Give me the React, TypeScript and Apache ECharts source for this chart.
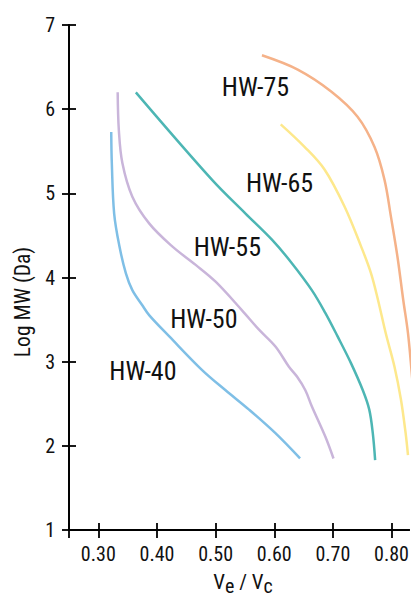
import React, { useEffect, useRef } from "react";
import * as echarts from "echarts";

const FONT = "'Roboto Condensed', 'Liberation Sans Narrow', Roboto, sans-serif";

const xTickValues = [0.25, 0.3, 0.4, 0.5, 0.6, 0.7, 0.8];
const xLabelValues = [0.3, 0.4, 0.5, 0.6, 0.7, 0.8];
const yTickValues = [1, 2, 3, 4, 5, 6, 7];

const hw40X = [0.322, 0.323, 0.327, 0.336, 0.347, 0.358, 0.375, 0.387, 0.421, 0.477, 0.517, 0.557, 0.602, 0.644];
const hw40Y = [5.73, 5.36, 4.76, 4.37, 4.05, 3.85, 3.67, 3.55, 3.30, 2.90, 2.66, 2.43, 2.15, 1.85];

const hw50X = [0.333, 0.335, 0.341, 0.358, 0.387, 0.426, 0.466, 0.500, 0.545, 0.574, 0.602, 0.625, 0.639, 0.653, 0.664, 0.687, 0.701];
const hw50Y = [6.20, 5.75, 5.36, 4.96, 4.64, 4.37, 4.15, 3.95, 3.61, 3.38, 3.18, 2.94, 2.82, 2.66, 2.47, 2.11, 1.85];

const hw55X = [0.364, 0.494, 0.551, 0.596, 0.630, 0.664, 0.687, 0.708, 0.731, 0.751, 0.762, 0.768, 0.772];
const hw55Y = [6.20, 5.16, 4.76, 4.45, 4.17, 3.85, 3.58, 3.30, 2.98, 2.66, 2.43, 2.15, 1.83];

const hw65X = [0.611, 0.652, 0.686, 0.720, 0.748, 0.765, 0.777, 0.790, 0.805, 0.816, 0.824, 0.828];
const hw65Y = [5.82, 5.55, 5.28, 4.84, 4.37, 4.05, 3.73, 3.34, 2.94, 2.55, 2.15, 1.89];

const hw75X = [0.579, 0.640, 0.697, 0.742, 0.771, 0.788, 0.799, 0.810, 0.820, 0.828, 0.834, 0.840];
const hw75Y = [6.64, 6.47, 6.21, 5.91, 5.55, 5.16, 4.72, 4.25, 3.73, 3.34, 2.90, 2.40];

const seriesNames = ["HW-40", "HW-50", "HW-55", "HW-65", "HW-75"];
const seriesColors = ["#7fbfe6", "#c9b5da", "#4db6b4", "#fde88c", "#f5b289"];
const seriesXs = [hw40X, hw50X, hw55X, hw65X, hw75X];
const seriesYs = [hw40Y, hw50Y, hw55Y, hw65Y, hw75Y];

const labelX = [0.376, 0.480, 0.520, 0.609, 0.568];
const labelY = [2.89, 3.51, 4.36, 5.12, 6.26];

const zip = (xs: number[], ys: number[]) => xs.map((x, i) => [x, ys[i]]);

export default function App() {
  const ref = useRef<HTMLDivElement>(null);
  useEffect(() => {
    document.body.style.margin = "0";
    if (!ref.current) return;
    const chart = echarts.init(ref.current, undefined, { renderer: "svg" });
    const axisLineStyle = { color: "#000", width: 1.8 };
    const baseX = {
      type: "value",
      show: true,
      min: 0.25,
      max: 0.83,
      position: "bottom",
      splitLine: { show: false },
    };
    const baseY = {
      type: "value",
      show: true,
      min: 1,
      max: 7,
      interval: 1,
      position: "left",
      splitLine: { show: false },
    };
    const option: any = {
      animation: false,
      textStyle: { fontFamily: FONT },
      grid: { left: 69, right: 1, top: 25, bottom: 69, containLabel: false },
      xAxis: [
        {
          ...baseX,
          axisLine: { show: true, onZero: false, lineStyle: axisLineStyle },
          axisTick: { show: true, inside: false, length: 8, lineStyle: axisLineStyle, customValues: xTickValues },
          axisLabel: {
            show: true,
            customValues: xLabelValues,
            formatter: (v: number) => v.toFixed(2),
            color: "#111",
            fontSize: 20,
            fontFamily: FONT,
            margin: 14,
          },
        },
        {
          ...baseX,
          axisLine: { show: true, onZero: false, lineStyle: axisLineStyle },
          axisTick: { show: true, inside: true, length: 7, lineStyle: axisLineStyle, customValues: xTickValues },
          axisLabel: { show: false },
        },
      ],
      yAxis: [
        {
          ...baseY,
          axisLine: { show: true, onZero: false, lineStyle: axisLineStyle },
          axisTick: { show: true, inside: false, length: 7, lineStyle: axisLineStyle, customValues: yTickValues },
          axisLabel: { show: true, color: "#111", fontSize: 20, fontFamily: FONT, margin: 14 },
        },
        {
          ...baseY,
          axisLine: { show: true, onZero: false, lineStyle: axisLineStyle },
          axisTick: { show: true, inside: true, length: 7, lineStyle: axisLineStyle, customValues: yTickValues },
          axisLabel: { show: false },
        },
      ],
      graphic: [
        {
          type: "text",
          x: 22,
          y: 302,
          rotation: Math.PI / 2,
          style: {
            text: "Log MW (Da)",
            fontSize: 21.5,
            fontFamily: FONT,
            fill: "#111",
            textAlign: "center",
            textVerticalAlign: "middle",
          },
        },
        {
          type: "text",
          x: 243,
          y: 585,
          style: {
            text: "{a|V}{b|e}{a| / V}{b|c}",
            fontFamily: FONT,
            fill: "#111",
            textAlign: "center",
            textVerticalAlign: "middle",
            rich: {
              a: { fontSize: 21, fontFamily: FONT, fill: "#111", lineHeight: 22, verticalAlign: "bottom", padding: [0, 0, 4, 0] },
              b: { fontSize: 20, fontFamily: FONT, fill: "#111", lineHeight: 22, verticalAlign: "bottom" },
            },
          },
        },
      ],
      series: [
        ...seriesNames.map((name, i) => ({
          type: "line",
          name,
          xAxisIndex: 0,
          yAxisIndex: 0,
          data: zip(seriesXs[i], seriesYs[i]),
          smooth: 0.35,
          symbol: "none",
          clip: true,
          lineStyle: { color: seriesColors[i], width: 2.5 },
        })),
        {
          type: "custom",
          xAxisIndex: 1,
          yAxisIndex: 1,
          clip: false,
          data: seriesNames.map((n, i) => ({ name: n, value: [labelX[i], labelY[i]] })),
          renderItem: (params: any, api: any) => {
            const p = api.coord([api.value(0), api.value(1)]);
            return {
              type: "text",
              x: p[0],
              y: p[1],
              style: {
                text: seriesNames[params.dataIndex],
                fontSize: 26,
                fontFamily: FONT,
                fill: "#111",
                align: "center",
                verticalAlign: "middle",
                textAlign: "center",
                textVerticalAlign: "middle",
              },
            };
          },
        },
      ],
    };
    chart.setOption(option);
    return () => chart.dispose();
  }, []);
  return <div ref={ref} style={{ width: 412, height: 599 }} />;
}
